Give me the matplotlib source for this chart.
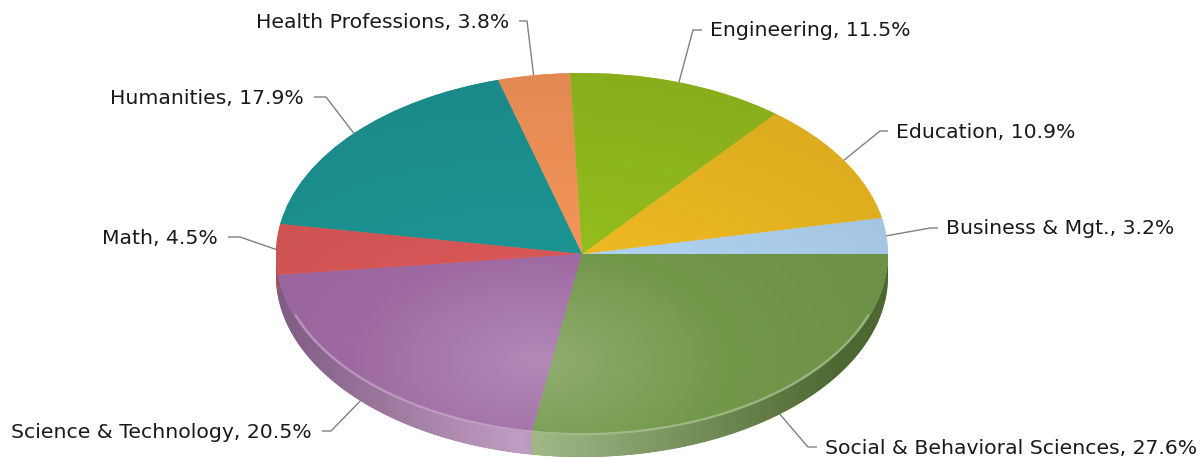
import numpy as np
import matplotlib
matplotlib.use("Agg")
import matplotlib.pyplot as plt
from matplotlib.patches import Polygon
from matplotlib.colors import to_rgb

# ---- data ----
categories = ["Business & Mgt.", "Education", "Engineering", "Health Professions",
              "Humanities", "Math", "Science & Technology", "Social & Behavioral Sciences"]
shares = [3.2, 10.9, 11.5, 3.8, 17.9, 4.5, 20.5, 27.6]
colors = ["#aed2f0", "#eeba22", "#94bd1e", "#f5955a", "#1d9494", "#d65656", "#9e68a2", "#72984a"]

# ---- layout (pixel geometry of the reference) ----
W, H = 1202, 458
CX, CY, RX, RY, DEPTH = 582, 254, 306, 181, 22
# elbow point, hook end (pixels) for each label
elbows = [(930, 228), (880, 131), (693, 30), (527, 21), (326, 97), (240, 237), (331, 431), (808, 447)]
hooks = [(938, 228), (888, 131), (702, 30), (519, 21), (314, 97), (228, 237), (322, 431), (817, 447)]


def px(x, y):
    return (x - CX) / RX, (CY - y) / RY


fig = plt.figure(figsize=(W / 100, H / 100), dpi=100)
ax = fig.add_axes([0, 0, 1, 1])
x0, y0 = px(0, H)
x1, y1 = px(W, 0)
depth = DEPTH / RY

wedges, _ = ax.pie(shares, colors=colors, startangle=0, counterclock=True,
                   radius=1, center=(0, 0), wedgeprops=dict(linewidth=0, zorder=3))
ax.set_aspect("auto")
ax.set_xlim(x0, x1)
ax.set_ylim(y0, y1)
ax.axis("off")

nx, ny = W, H
X, Y = np.meshgrid(np.linspace(x0, x1, nx), np.linspace(y0, y1, ny))

hx, hy = -0.15, -0.6
D = np.sqrt((X - hx) ** 2 + (Y - hy) ** 2)
vraw = 0.62 - D


def top_img(base):
    b = np.array(to_rgb(base))
    img = np.empty((ny, nx, 3))
    for k in range(3):
        lighter = b[k] + (1 - b[k]) * 0.35 * np.clip(vraw, 0, None)
        darker = b[k] * (1 + 0.08 * np.clip(vraw, None, 0))
        img[..., k] = np.where(vraw > 0, lighter, darker)
    return np.clip(img, 0, 1)


def side_img(base):
    b = np.array(to_rgb(base))
    v = np.clip(1 - np.abs(X + 0.2) / 1.05, 0, 1)
    dark = b * 0.68
    light = b + (1 - b) * 0.35
    img = dark[None, None, :] * (1 - v[..., None]) + light[None, None, :] * v[..., None]
    return np.clip(img, 0, 1)


# sides (front half only)
for w, c in zip(wedges, colors):
    a = max(w.theta1, 180)
    b = min(w.theta2, 360)
    if b <= a:
        continue
    t = np.radians(np.linspace(a, b, 200))
    top = np.column_stack([np.cos(t), np.sin(t)])
    bot = np.column_stack([np.cos(t[::-1]), np.sin(t[::-1]) - depth])
    poly = Polygon(np.vstack([top, bot]), closed=True, facecolor=c, edgecolor="none", zorder=2)
    ax.add_patch(poly)
    im = ax.imshow(side_img(c), extent=(x0, x1, y0, y1), origin="lower",
                   aspect="auto", zorder=2.5, interpolation="bilinear")
    im.set_clip_path(poly)

# top faces with gradient
for w, c in zip(wedges, colors):
    im = ax.imshow(top_img(c), extent=(x0, x1, y0, y1), origin="lower",
                   aspect="auto", zorder=3.5, interpolation="bilinear")
    im.set_clip_path(w)

# subtle highlight along the front rim
t = np.radians(np.linspace(200, 340, 300))
ax.plot(0.995 * np.cos(t), 0.995 * np.sin(t), color="white", alpha=0.3, lw=1.6, zorder=4)

ax.set_xlim(x0, x1)
ax.set_ylim(y0, y1)

# labels with leader lines
for w, cat, s, e, hk in zip(wedges, categories, shares, elbows, hooks):
    mid = np.radians((w.theta1 + w.theta2) / 2)
    axx, ayy = np.cos(mid), np.sin(mid)
    if ayy < 0:
        ayy -= depth
    ex, ey = px(*e)
    hkx, hky = px(*hk)
    ax.plot([axx, ex, hkx], [ayy, ey, hky], color="#808080", lw=1, zorder=5,
            solid_capstyle="butt")
    right = hk[0] > e[0]
    tx, ty = px(hk[0] + (8 if right else -10), hk[1] + 1)
    ax.text(tx, ty, f"{cat}, {s}%", ha="left" if right else "right", va="center",
            fontsize=14.7, color="#1a1a1a", family="DejaVu Sans", zorder=6)

fig.savefig("out.png", dpi=100)
